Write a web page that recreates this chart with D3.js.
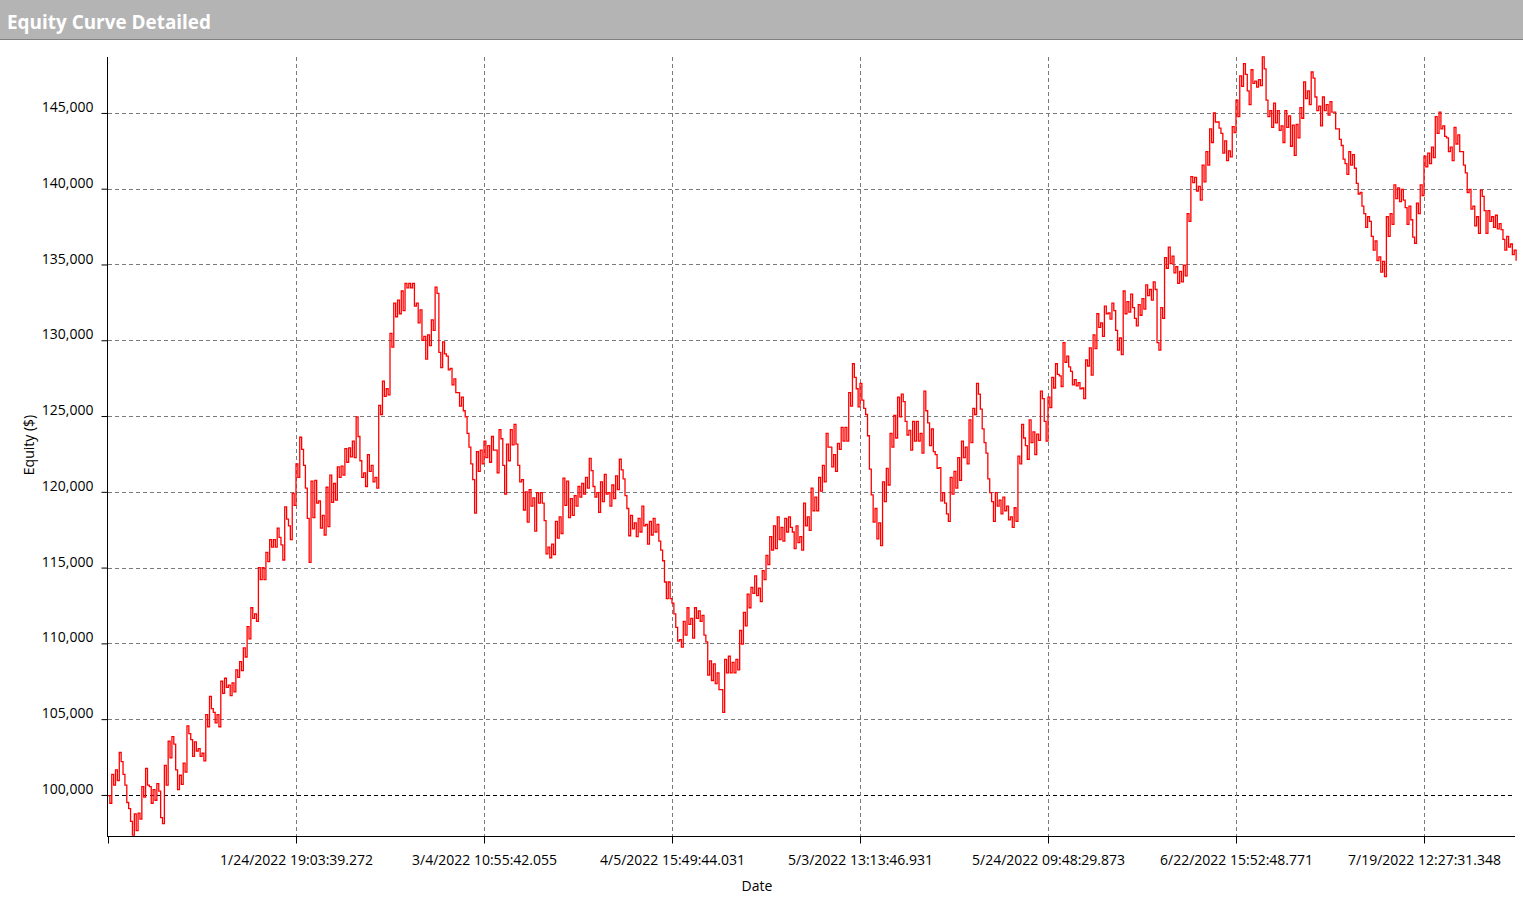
<!DOCTYPE html>
<html>
<head>
<meta charset="utf-8">
<script src="https://cdn.jsdelivr.net/npm/d3@7"></script>
<style>
  html, body { margin: 0; padding: 0; background: #fff; }
  svg { display: block; font-family: "Open Sans", "DejaVu Sans", sans-serif; }
</style>
</head>
<body>
<svg id="chart" width="1523" height="901"></svg>
<script>
// ---- data ----
const chartTitle = "Equity Curve Detailed";
const yTitle = "Equity ($)";
const xTitle = "Date";
const tradesPerSample = 10;
// equity level per 10-trade sample, thousands of $
const equityK = [
  99.7,101.0,101.3,102.5,101.0,99.3,97.8,98.2,98.6,100.2,
  101.2,100.0,100.0,100.5,98.3,101.3,103.0,103.6,101.0,101.0,
  101.8,104.3,103.1,103.2,102.8,102.5,104.9,106.1,105.1,104.9,
  107.1,107.4,106.9,107.1,108.0,108.5,109.4,110.7,112.0,111.7,
  114.6,114.6,115.7,116.6,116.6,117.3,116.0,118.6,117.3,119.5,
  121.4,123.2,121.0,116.8,119.5,120.0,118.5,117.8,119.0,120.2,
  120.0,121.3,121.4,122.4,122.6,122.8,124.3,121.5,120.8,121.9,
  121.2,120.6,125.4,126.8,126.6,130.0,132.0,132.2,132.6,133.6,
  133.6,133.0,131.8,131.0,129.5,130.0,131.0,133.3,128.7,129.5,
  128.5,127.6,127.0,126.1,125.8,124.4,122.4,119.7,122.0,122.3,
  122.8,122.5,123.2,122.0,123.8,120.8,122.6,123.6,123.8,121.2,
  119.8,119.0,119.6,118.5,119.6,119.6,117.0,116.0,116.2,117.5,
  117.8,120.0,119.5,119.0,119.4,120.0,120.2,120.6,121.8,120.0,
  119.3,120.0,120.5,119.5,120.0,120.6,121.8,120.3,118.0,118.0,
  117.5,117.8,118.4,117.2,117.6,117.8,117.3,115.8,113.5,113.5,
  112.3,110.6,110.0,111.0,111.8,111.0,112.0,111.8,111.2,109.0,
  108.2,108.0,107.5,106.2,108.5,108.6,108.4,108.6,110.4,111.6,
  112.8,113.5,113.8,113.2,114.5,115.5,116.6,117.0,117.6,117.2,
  117.8,118.0,116.8,117.2,116.6,118.5,117.9,119.5,119.2,120.5,
  121.2,123.4,122.3,121.9,123.0,123.8,123.8,126.1,128.0,126.2,
  126.6,125.3,122.6,118.9,117.9,117.2,120.0,121.0,123.4,124.3,
  125.6,126.2,124.2,123.4,124.0,124.0,123.2,126.0,123.8,123.4,
  122.0,120.5,119.6,118.3,120.4,120.8,121.5,122.8,122.4,124.0,
  125.3,126.8,124.8,122.9,120.4,118.7,119.5,119.0,119.2,118.6,
  118.0,118.5,122.1,124.0,122.6,124.0,123.2,123.6,126.4,124.0,
  125.9,127.2,128.1,127.3,129.2,128.6,127.5,127.2,127.0,126.5,
  128.5,128.6,129.9,131.3,130.7,132.0,131.6,132.2,130.0,129.6,
  132.5,132.2,132.6,131.2,132.0,132.4,133.3,133.0,133.6,129.6,
  131.8,135.1,135.6,135.0,134.3,134.2,134.6,138.1,140.6,140.3,
  139.7,141.0,142.0,143.5,144.7,144.2,143.0,142.5,142.3,143.9,
  145.3,147.1,147.9,146.0,147.4,146.9,147.0,148.3,145.3,144.6,
  145.0,144.5,143.6,144.6,143.8,143.2,143.8,145.0,146.5,146.0,
  147.5,145.6,144.8,145.6,145.2,145.4,144.5,143.6,142.4,141.3,
  142.0,141.8,140.0,139.3,137.9,138.0,136.4,135.9,135.0,134.7,
  137.5,138.0,139.8,139.6,139.6,138.2,138.4,136.6,138.7,139.9,
  141.8,142.0,142.4,144.2,144.5,143.8,142.9,142.3,143.5,143.0,
  142.0,140.4,139.3,138.2,137.6,139.7,137.8,138.2,137.8,137.8,
  137.5,136.3,136.5,136.0,135.6
];
// intra-sample swing (high minus low) per sample, thousands of $
const swingK = [
  0.5,0.7,0.7,0.6,0.7,0.4,0.9,1.1,0.4,0.7,
  1.1,1.1,0.7,0.5,0.4,1.3,1.1,0.5,1.3,0.6,
  0.6,0.5,1.1,0.6,0.5,0.5,0.8,0.8,0.7,0.8,
  0.8,0.6,0.7,0.6,0.5,0.6,0.6,0.8,0.7,0.5,
  0.8,0.8,0.6,0.5,0.5,0.6,1.0,0.8,0.9,0.8,
  0.9,0.8,1.5,2.9,2.4,1.5,1.8,1.3,2.6,1.8,
  1.1,0.7,0.6,0.9,0.6,1.1,1.3,1.1,0.9,1.1,
  1.1,0.7,0.6,1.0,0.4,0.9,0.9,0.9,1.3,0.3,
  0.3,1.5,1.3,2.0,1.5,0.7,0.7,0.4,1.0,0.8,
  0.9,1.1,0.9,0.9,0.9,1.1,1.1,2.2,1.3,0.9,
  1.1,1.1,0.9,1.5,0.6,1.9,1.1,1.0,1.3,1.1,
  2.0,2.0,1.1,2.2,0.7,0.7,2.2,0.7,0.7,1.1,
  1.1,1.8,2.4,1.1,0.7,0.7,0.7,0.7,0.8,0.7,
  1.3,1.3,1.3,0.9,0.9,0.9,0.7,1.1,1.8,0.9,
  0.9,0.9,1.3,1.3,0.9,0.9,1.1,0.7,1.1,1.1,
  0.7,0.9,0.5,0.9,1.1,1.3,0.7,0.7,1.3,2.2,
  1.3,1.3,1.1,1.5,0.9,1.1,0.7,0.7,0.9,0.9,
  0.9,0.4,1.3,0.9,0.6,0.6,0.9,1.5,1.5,0.9,
  0.9,0.7,1.1,1.1,0.9,1.5,0.9,1.5,0.9,0.9,
  1.1,0.9,1.3,1.1,0.4,0.9,0.9,0.9,0.9,1.2,
  1.1,0.4,2.2,1.8,2.0,1.5,1.3,1.1,0.9,1.5,
  1.3,0.5,0.9,1.3,1.3,1.3,1.3,1.3,1.5,1.5,
  0.9,2.2,0.7,0.5,1.1,1.1,1.5,1.1,1.1,1.5,
  0.4,0.7,1.3,0.7,0.9,1.3,0.9,0.9,0.9,0.9,
  0.7,0.9,0.5,0.9,0.9,1.5,1.5,0.4,0.5,1.3,
  0.7,0.7,0.7,0.7,1.3,0.7,0.9,0.4,0.4,0.7,
  0.4,1.8,0.9,0.9,0.9,0.5,0.4,0.5,1.3,1.1,
  1.5,0.7,0.9,0.5,0.7,0.7,0.7,0.7,0.5,0.5,
  0.7,0.7,1.1,1.1,1.1,0.7,0.7,0.5,0.4,0.9,
  0.9,1.1,0.9,0.9,0.6,0.4,1.3,1.3,0.4,0.4,
  1.1,0.7,0.7,0.9,0.9,0.4,0.4,0.8,1.1,1.1,
  1.3,1.3,1.1,1.1,2.0,2.0,0.9,0.7,1.1,0.9,
  0.4,0.9,1.3,0.9,0.7,0.7,1.1,0.7,0.9,0.7,
  0.9,0.9,0.7,0.9,0.9,0.3,0.9,1.3,1.0,1.0,
  1.3,0.7,0.9,0.9,0.7,1.1,0.9,0.4,0.7,0.7,
  0.7,0.7,0.7,1.1,1.1,0.7,0.9,0.9,1.1,1.1,
  0.9,1.3,1.3,1.3,1.1,0.4,1.5,0.7,0.7,0.9,
  0.4,0.7,0.7,0.7,0.7
];
const xTickTrades = [0, 500, 1000, 1500, 2000, 2500, 3000, 3500];
const xTickLabels = ["", "1/24/2022 19:03:39.272", "3/4/2022 10:55:42.055",
  "4/5/2022 15:49:44.031", "5/3/2022 13:13:46.931", "5/24/2022 09:48:29.873",
  "6/22/2022 15:52:48.771", "7/19/2022 12:27:31.348"];
const yTickValues = [100000, 105000, 110000, 115000, 120000, 125000, 130000, 135000, 140000, 145000];
const baselineEquity = 100000;
const yDomain = [97290, 148690];

// ---- layout ----
const W = 1523, H = 901;
const plot = { left: 108, right: 1515, top: 57, bottom: 836 };
const svg = d3.select("#chart");

// each sample contributes its high then its low within its 10-trade slot
const data = [];
equityK.forEach((v, i) => {
  const t = i * tradesPerSample, s = swingK[i];
  data.push({ trade: t, equity: (v + s / 2) * 1000 });
  data.push({ trade: t + tradesPerSample / 2, equity: (v - s / 2) * 1000 });
});
const lastTrade = (equityK.length - 1) * tradesPerSample + tradesPerSample / 2;

const x = d3.scaleLinear()
  .domain([0, lastTrade])
  .range([plot.left, plot.left + lastTrade * (188 / 500)]);
const y = d3.scaleLinear().domain(yDomain).range([plot.bottom, plot.top]);

// title bar
svg.append("rect").attr("x", 0).attr("y", 0).attr("width", W).attr("height", 39)
  .attr("fill", "#b4b4b4");
svg.append("line").attr("x1", 0).attr("x2", W).attr("y1", 39.5).attr("y2", 39.5)
  .attr("stroke", "#808080").attr("stroke-width", 1);
svg.append("text").attr("x", 7).attr("y", 29)
  .attr("fill", "#ffffff").attr("font-weight", 700).attr("font-size", 20)
  .attr("textLength", 204).attr("lengthAdjust", "spacingAndGlyphs")
  .text(chartTitle);

// horizontal gridlines
svg.append("g").selectAll("line").data(yTickValues).join("line")
  .attr("x1", plot.left).attr("x2", plot.right)
  .attr("y1", d => Math.round(y(d)) + 0.5).attr("y2", d => Math.round(y(d)) + 0.5)
  .attr("stroke", d => d === baselineEquity ? "#000000" : "#7a7a7a")
  .attr("stroke-width", 1)
  .attr("stroke-dasharray", "4,3");

// vertical gridlines
svg.append("g").selectAll("line").data(xTickTrades.slice(1)).join("line")
  .attr("x1", d => Math.round(x(d)) + 0.5).attr("x2", d => Math.round(x(d)) + 0.5)
  .attr("y1", plot.top).attr("y2", plot.bottom)
  .attr("stroke", "#7a7a7a").attr("stroke-width", 1)
  .attr("stroke-dasharray", "4,3");

// y axis
const yAxis = d3.axisLeft(y).tickValues(yTickValues).tickSize(6).tickPadding(8)
  .tickFormat(d3.format(","));
const gy = svg.append("g").attr("transform", `translate(${plot.left - 0.5},0)`).call(yAxis);
gy.select(".domain").attr("d", `M0,${plot.top}V${plot.bottom}`).attr("stroke", "#000");
gy.selectAll(".tick line").attr("stroke", "#000");
gy.selectAll(".tick text").attr("font-size", 14).attr("fill", "#000")
  .attr("font-family", "'Open Sans', sans-serif")
  .attr("dy", "-0.1em").attr("x", -14);

// x axis
const xAxis = d3.axisBottom(x).tickValues(xTickTrades).tickSize(7).tickPadding(12)
  .tickFormat((d, i) => xTickLabels[i]);
const gx = svg.append("g").attr("transform", `translate(0,${plot.bottom + 0.5})`).call(xAxis);
gx.select(".domain").attr("d", `M${plot.left - 1},0H${plot.right}`).attr("stroke", "#000");
gx.selectAll(".tick line").attr("stroke", "#000");
gx.selectAll(".tick text").attr("font-size", 14).attr("fill", "#000")
  .attr("font-family", "'Open Sans', sans-serif");

// axis titles
svg.append("text").attr("x", 757).attr("y", 891).attr("text-anchor", "middle")
  .attr("font-size", 14).attr("fill", "#000").text(xTitle);
svg.append("text").attr("transform", "translate(34,445) rotate(-90)")
  .attr("text-anchor", "middle").attr("font-size", 14).attr("fill", "#000").text(yTitle);

// equity line
const line = d3.line().curve(d3.curveStepAfter)
  .x(d => x(d.trade)).y(d => y(d.equity));
svg.append("path").datum(data)
  .attr("fill", "none").attr("stroke", "#ff0000").attr("stroke-width", 1.3)
  .attr("d", line);
</script>
</body>
</html>
